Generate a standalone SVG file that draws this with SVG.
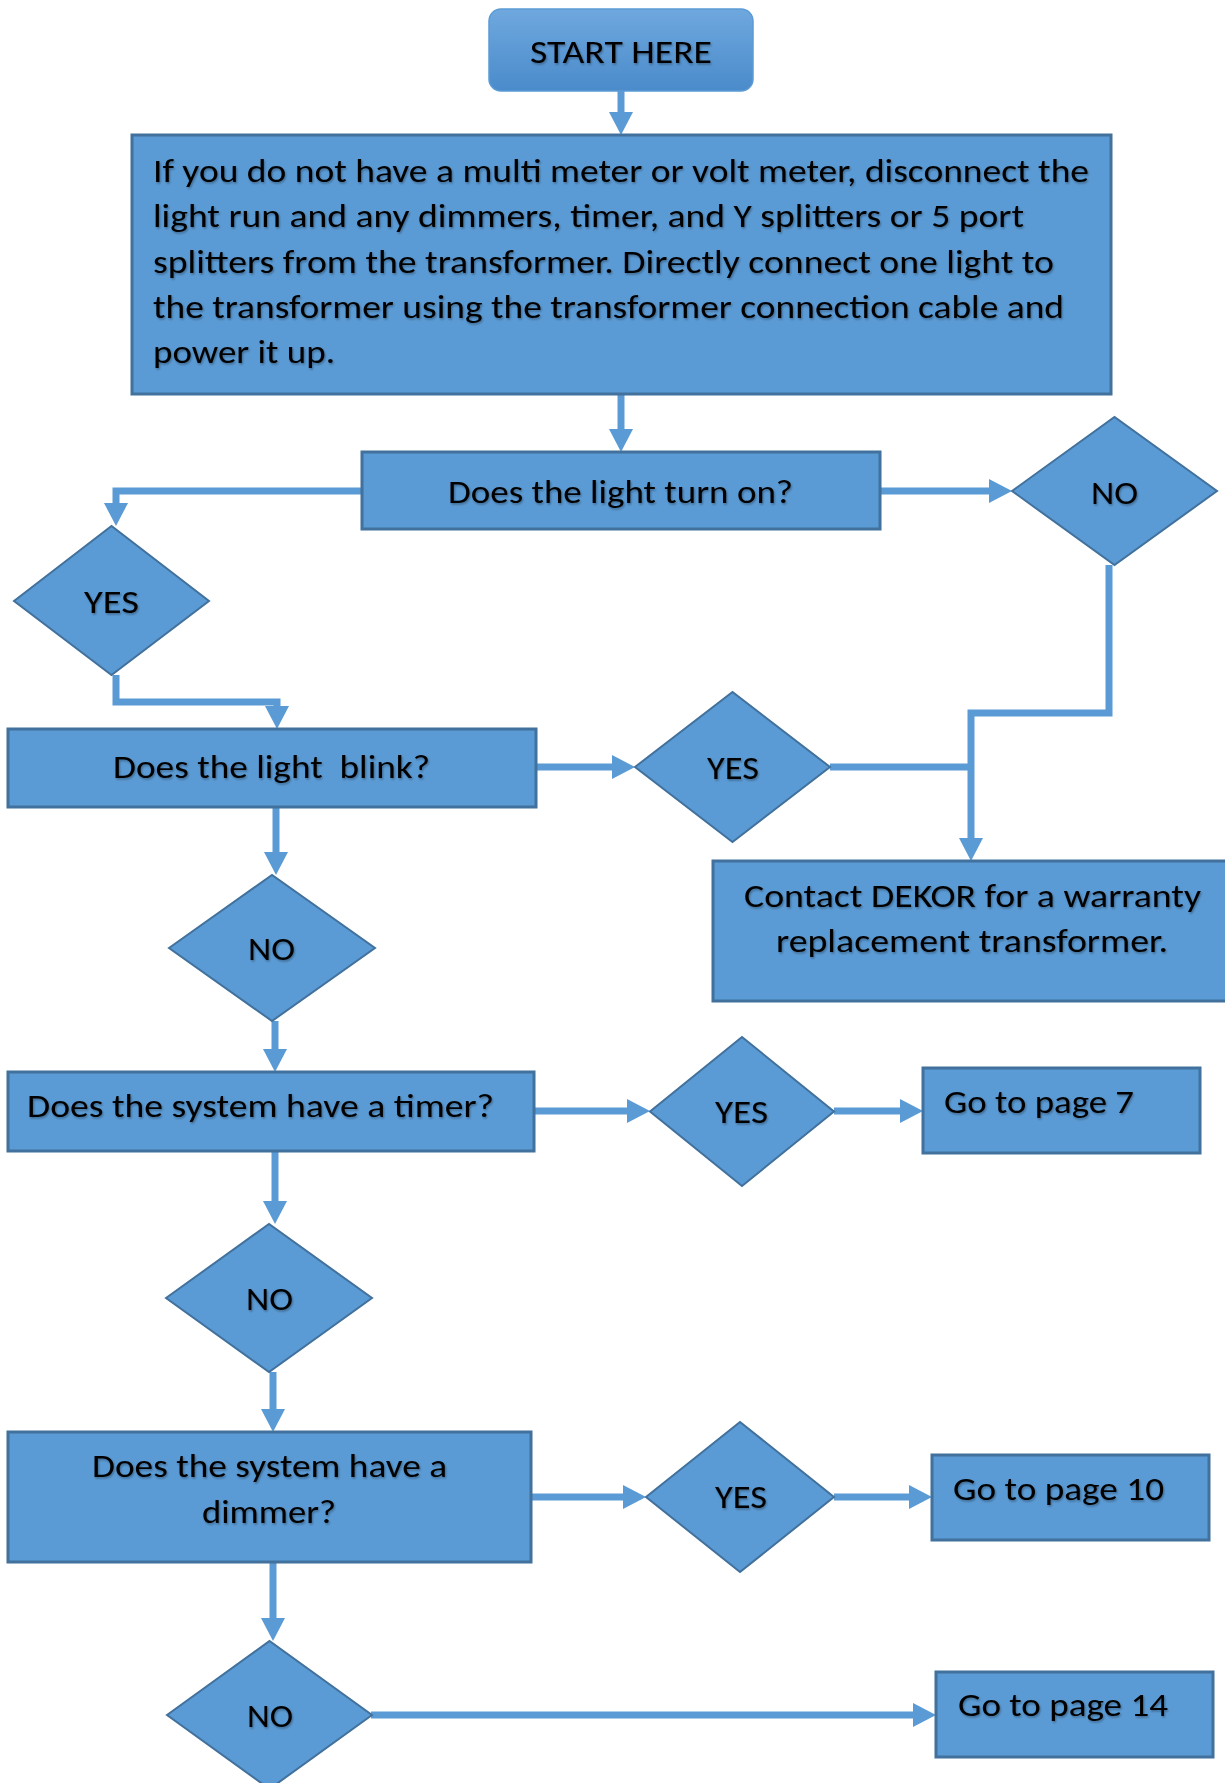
<svg xmlns="http://www.w3.org/2000/svg" width="1225" height="1783" viewBox="0 0 1225 1783">
  <defs>
    <linearGradient id="startFill" x1="0" y1="0" x2="0" y2="1">
      <stop offset="0" stop-color="#6fa8de"/>
      <stop offset="1" stop-color="#4a8bcb"/>
    </linearGradient>
    <filter id="txtShadow" x="-5%" y="-20%" width="110%" height="150%">
      <feDropShadow dx="1" dy="1.5" stdDeviation="0.9" flood-color="#000" flood-opacity="0.35"/>
    </filter>
    <marker id="ah" markerUnits="userSpaceOnUse" markerWidth="24" markerHeight="24" refX="0" refY="12" orient="auto" overflow="visible">
      <path d="M0,0 L23,12 L0,24 Z" fill="#5b9bd5"/>
    </marker>
  </defs>
  <style>
    .box { fill: #5b9bd5; stroke: #41719c; stroke-width: 3; }
    .dia { fill: #5b9bd5; stroke: #41719c; stroke-width: 2; stroke-linejoin: miter; }
    .lbl { font-family: Carlito, Lato, "Open Sans", "Liberation Sans", sans-serif; font-size: 32px; fill: #000; filter: url(#txtShadow); }
    .mid { text-anchor: middle; }
    .wire { fill: none; stroke: #5b9bd5; stroke-width: 7; stroke-linejoin: miter; }
    .arrow { marker-end: url(#ah); }
  </style>
  <rect width="1225" height="1783" fill="#fff"/>

  <!-- connectors -->
  <g id="connectors">
    <path class="wire arrow" d="M621,91 V112"/>
    <path class="wire arrow" d="M621,394 V429"/>
    <path class="wire arrow" d="M362,491 H116 V503"/>
    <path class="wire arrow" d="M880,491 H989"/>
    <path class="wire arrow" d="M1109,565 V713 H971 V838"/>
    <path class="wire" d="M830,767 H971"/>
    <path class="wire arrow" d="M116,675 V702 H277 V706"/>
    <path class="wire arrow" d="M536,767 H612"/>
    <path class="wire arrow" d="M276,807 V852"/>
    <path class="wire arrow" d="M275,1021 V1049"/>
    <path class="wire arrow" d="M534,1111 H627"/>
    <path class="wire arrow" d="M834,1111 H900"/>
    <path class="wire arrow" d="M275,1151 V1201"/>
    <path class="wire arrow" d="M273,1372 V1409"/>
    <path class="wire arrow" d="M531,1497 H623"/>
    <path class="wire arrow" d="M834,1497 H909"/>
    <path class="wire arrow" d="M273,1562 V1618"/>
    <path class="wire arrow" d="M371,1715 H913"/>
  </g>

  <g id="start">
    <rect x="489" y="9" width="264" height="82" rx="12" fill="url(#startFill)" stroke="#5b9bd5" stroke-width="1.5"/>
    <text class="lbl" x="530" y="63" textLength="182" lengthAdjust="spacingAndGlyphs">START HERE</text>
  </g>

  <g id="disconnect">
    <rect class="box" x="132" y="135" width="979" height="259"/>
    <text class="lbl" x="153" y="182" textLength="936" lengthAdjust="spacingAndGlyphs">If you do not have a multi meter or volt meter, disconnect the</text>
    <text class="lbl" x="153" y="227" textLength="871" lengthAdjust="spacingAndGlyphs">light run and any dimmers, timer, and Y splitters or 5 port</text>
    <text class="lbl" x="153" y="273" textLength="901" lengthAdjust="spacingAndGlyphs">splitters from the transformer. Directly connect one light to</text>
    <text class="lbl" x="153" y="318" textLength="911" lengthAdjust="spacingAndGlyphs">the transformer using the transformer connection cable and</text>
    <text class="lbl" x="153" y="363" textLength="182" lengthAdjust="spacingAndGlyphs">power it up.</text>
  </g>

  <g id="turn-on">
    <rect class="box" x="362" y="452" width="518" height="77"/>
    <text class="lbl" x="448" y="503" textLength="345" lengthAdjust="spacingAndGlyphs">Does the light turn on?</text>
  </g>

  <g id="turn-on-yes">
    <polygon class="dia" points="14,601 111.5,526 209,601 111.5,675"/>
    <text class="lbl" x="84" y="613" textLength="55" lengthAdjust="spacingAndGlyphs">YES</text>
  </g>

  <g id="turn-on-no">
    <polygon class="dia" points="1012,491 1114.5,417 1217,491 1114.5,565"/>
    <text class="lbl" x="1091" y="504" textLength="47" lengthAdjust="spacingAndGlyphs">NO</text>
  </g>

  <g id="blink">
    <rect class="box" x="8" y="729" width="528" height="78"/>
    <text class="lbl" x="113" y="778" textLength="317" lengthAdjust="spacingAndGlyphs" xml:space="preserve">Does the light  blink?</text>
  </g>

  <g id="blink-yes">
    <polygon class="dia" points="635,767 732.5,692 830,767 732.5,842"/>
    <text class="lbl" x="707" y="779" textLength="52" lengthAdjust="spacingAndGlyphs">YES</text>
  </g>

  <g id="contact">
    <rect class="box" x="713" y="861" width="530" height="140"/>
    <text class="lbl" x="744" y="907" textLength="457" lengthAdjust="spacingAndGlyphs">Contact DEKOR for a warranty</text>
    <text class="lbl" x="776" y="952" textLength="392" lengthAdjust="spacingAndGlyphs">replacement transformer.</text>
  </g>

  <g id="blink-no">
    <polygon class="dia" points="169,948 272,875 375,948 272,1021"/>
    <text class="lbl" x="248" y="960" textLength="47" lengthAdjust="spacingAndGlyphs">NO</text>
  </g>

  <g id="timer">
    <rect class="box" x="8" y="1072" width="526" height="79"/>
    <text class="lbl" x="27" y="1117" textLength="467" lengthAdjust="spacingAndGlyphs">Does the system have a timer?</text>
  </g>

  <g id="timer-yes">
    <polygon class="dia" points="650,1111.5 742,1037 834,1111.5 742,1186"/>
    <text class="lbl" x="715" y="1123" textLength="53" lengthAdjust="spacingAndGlyphs">YES</text>
  </g>

  <g id="page-7">
    <rect class="box" x="923" y="1068" width="277" height="85"/>
    <text class="lbl" x="944" y="1113" textLength="190" lengthAdjust="spacingAndGlyphs">Go to page 7</text>
  </g>

  <g id="timer-no">
    <polygon class="dia" points="166,1298 269,1224 372,1298 269,1372"/>
    <text class="lbl" x="246" y="1310" textLength="47" lengthAdjust="spacingAndGlyphs">NO</text>
  </g>

  <g id="dimmer">
    <rect class="box" x="8" y="1432" width="523" height="130"/>
    <text class="lbl" x="92" y="1477" textLength="355" lengthAdjust="spacingAndGlyphs">Does the system have a</text>
    <text class="lbl" x="202" y="1523" textLength="134" lengthAdjust="spacingAndGlyphs">dimmer?</text>
  </g>

  <g id="dimmer-yes">
    <polygon class="dia" points="646,1497 740,1422 834,1497 740,1572"/>
    <text class="lbl" x="715" y="1508" textLength="52" lengthAdjust="spacingAndGlyphs">YES</text>
  </g>

  <g id="page-10">
    <rect class="box" x="932" y="1455" width="277" height="85"/>
    <text class="lbl" x="953" y="1500" textLength="211" lengthAdjust="spacingAndGlyphs">Go to page 10</text>
  </g>

  <g id="dimmer-no">
    <polygon class="dia" points="167,1715 269.5,1641 372,1715 269.5,1789"/>
    <text class="lbl" x="247" y="1727" textLength="46" lengthAdjust="spacingAndGlyphs">NO</text>
  </g>

  <g id="page-14">
    <rect class="box" x="936" y="1672" width="277" height="85"/>
    <text class="lbl" x="958" y="1716" textLength="210" lengthAdjust="spacingAndGlyphs">Go to page 14</text>
  </g>
</svg>
